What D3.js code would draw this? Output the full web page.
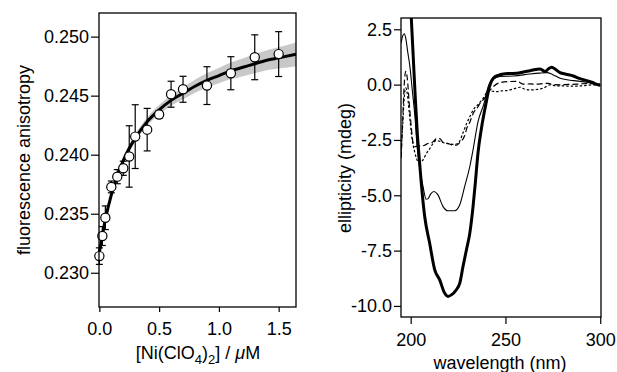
<!DOCTYPE html>
<html>
<head>
<meta charset="utf-8">
<script src="https://cdn.jsdelivr.net/npm/d3@7"></script>
<style>
  body { margin: 0; background: #fff; }
  svg { display: block; }
  text { font-family: "Liberation Sans", Arial, Helvetica, sans-serif; fill: #000; }
  .axis text { font-size: 18px; }
  .axis line { stroke: #000; stroke-width: 1.2px; }
</style>
</head>
<body>
<svg id="chart" width="617" height="372"></svg>
<script>
// ---- left panel: anisotropy titration ----
var niConc = [0, 0.025, 0.05, 0.1, 0.15, 0.2, 0.25, 0.3, 0.4, 0.5, 0.6, 0.7, 0.9, 1.1, 1.3, 1.5];
var anisotropy = [0.23141, 0.23311, 0.23466, 0.23727, 0.23814, 0.23885, 0.23985, 0.24153, 0.24212, 0.24340, 0.24512, 0.24554, 0.24585, 0.24690, 0.24825, 0.24852];
var anisoErr = [0.0007, 0.0008, 0.0010, 0.0005, 0.0006, 0.0006, 0.0026, 0.0027, 0.0018, 0.0003, 0.0011, 0.0011, 0.0016, 0.0014, 0.0019, 0.0019];

var fitConc = [0, 0.05, 0.1, 0.15, 0.2, 0.3, 0.4, 0.5, 0.6, 0.7, 0.8, 0.9, 1.0, 1.1, 1.2, 1.3, 1.4, 1.5, 1.645];
var fitValue = [0.2317, 0.2345, 0.2366, 0.2382, 0.2395, 0.2414, 0.2428, 0.2438, 0.2446, 0.2452, 0.2458, 0.2463, 0.2467, 0.2471, 0.2474, 0.2477, 0.2480, 0.2482, 0.2485];
var fitBand = [0.0002, 0.0002, 0.00025, 0.00025, 0.0003, 0.0003, 0.00035, 0.0004, 0.00045, 0.0005, 0.00055, 0.0006, 0.00065, 0.0007, 0.00075, 0.0008, 0.00085, 0.0009, 0.001];

var xTicksL = [0, 0.5, 1.0, 1.5];
var yTicksL = [0.230, 0.235, 0.240, 0.245, 0.250];

// ---- right panel: CD spectra [wavelength nm, mdeg] ----
var cdThick = [[198, 6.6], [199.2, 4.8], [200.3, 3.06], [201.5, 1.0], [202.5, -0.7], [203.5, -2.2], [204.5, -3.3], [205.6, -4.45], [207.4, -5.96], [210, -7.16], [212.7, -8.37], [215.3, -8.82], [217.9, -9.42], [219.7, -9.57], [221.5, -9.5], [224.1, -9.27], [225.9, -8.97], [227.6, -8.22], [229.4, -7.47], [231.2, -6.71], [232.9, -5.51], [234.1, -4.45], [235.5, -3.1], [237.3, -1.99], [239.9, -0.78], [241.5, -0.1], [243.6, 0.29], [246.5, 0.43], [248.9, 0.48], [252, 0.5], [256, 0.51], [259.5, 0.57], [263, 0.63], [266, 0.68], [268.3, 0.71], [270.9, 0.59], [272.5, 0.7], [274.4, 0.79], [276.5, 0.68], [278.8, 0.54], [282, 0.47], [285.8, 0.39], [289, 0.28], [292.9, 0.18], [296, 0.1], [299, -0.01], [300, 0.0]];
var cdThin = [[195, 1.9], [195.8, 2.2], [196.6, 2.3], [197.4, 2.1], [198.4, 1.5], [199.6, 0.81], [200.8, -0.2], [202.3, -1.5], [203.5, -2.9], [205, -3.9], [206.5, -4.6], [208.2, -5.18], [209.2, -5.15], [210.5, -4.95], [212.3, -4.83], [214.4, -4.98], [217, -5.5], [219.7, -5.7], [223.2, -5.7], [225.9, -5.43], [228.5, -4.6], [231.2, -3.7], [232.9, -2.95], [235.5, -1.68], [238.7, -0.85], [240.5, -0.2], [243, 0.2], [247.1, 0.37], [254.2, 0.39], [263, 0.48], [268, 0.52], [271.8, 0.54], [275, 0.45], [278.8, 0.29], [285.8, 0.18], [292.9, 0.11], [300, 0.0]];
var cdDashed = [[195, -3.3], [195.8, -1.6], [196.6, 0.0], [197.4, 0.6], [198.2, 0.3], [199.2, -0.8], [200.3, -1.9], [201.2, -2.6], [202.3, -2.8], [204.9, -2.77], [207, -2.75], [209.1, -2.66], [211.5, -2.6], [213.5, -2.45], [215.3, -2.44], [217.2, -2.62], [219.7, -2.66], [222.5, -2.74], [224.1, -2.74], [226, -2.6], [228.5, -2.3], [229.6, -1.97], [231.2, -1.7], [233, -1.29], [235.5, -1.0], [236.6, -0.84], [239.1, -0.6], [240.1, -0.46], [243.6, -0.09], [247.1, 0.09], [252.4, 0.14], [256, 0.15], [259.5, 0.02], [263, 0.03], [266.5, 0.02], [270, 0.05], [272.7, 0.06], [275, 0.0], [278.8, -0.01], [283, 0.01], [287.6, 0.02], [291, 0.04], [294.7, 0.06], [297.5, 0.0], [300, -0.06]];
var cdDotted = [[195, -3.0], [195.8, -1.8], [196.6, -0.6], [197.4, -0.15], [198.2, -0.4], [199.3, -1.3], [200.5, -2.3], [202.1, -3.04], [203.9, -3.49], [205, -3.55], [206.5, -3.4], [208.4, -3.1], [210, -2.9], [211.9, -2.65], [213.5, -2.52], [215.5, -2.57], [218, -2.64], [220.7, -2.68], [223, -2.7], [225.1, -2.65], [227.5, -2.2], [229.6, -1.74], [231.5, -1.4], [233, -1.14], [235.5, -0.9], [238.3, -0.61], [241, -0.28], [243, -0.3], [245.4, -0.32], [248, -0.28], [250.7, -0.27], [254, -0.2], [257.7, -0.12], [260, -0.2], [263, -0.24], [266.5, -0.22], [270, -0.16], [273.5, -0.01], [277, -0.06], [280.6, -0.06], [285, -0.07], [289.4, -0.06], [293, -0.03], [296.4, -0.01], [300, -0.06]];

var xTicksR = [200, 250, 300];
var yTicksR = [2.5, 0, -2.5, -5, -7.5, -10];

var svg = d3.select("#chart");

// ===== left panel =====
var L = { left: 99, right: 296, top: 13, bottom: 307 };
var xL = d3.scaleLinear().domain([-0.003, 1.645]).range([L.left, L.right]);
var yL = d3.scaleLinear().domain([0.2271, 0.2520]).range([L.bottom, L.top]);

var gL = svg.append("g");

var fit = fitConc.map(function (c, i) { return { x: c, y: fitValue[i], e: fitBand[i] }; });

gL.append("path")
    .datum(fit)
    .attr("fill", "#c8c8c8")
    .attr("d", d3.area()
        .x(function (d) { return xL(d.x); })
        .y0(function (d) { return yL(d.y - d.e); })
        .y1(function (d) { return yL(d.y + d.e); })
        .curve(d3.curveMonotoneX));

gL.append("path")
    .datum(fit)
    .attr("fill", "none")
    .attr("stroke", "#000")
    .attr("stroke-width", 3)
    .attr("d", d3.line()
        .x(function (d) { return xL(d.x); })
        .y(function (d) { return yL(d.y); })
        .curve(d3.curveMonotoneX));

var pts = niConc.map(function (c, i) { return { x: c, y: anisotropy[i], e: anisoErr[i] }; });

var bars = gL.selectAll(".err").data(pts).enter().append("g")
    .attr("stroke", "#000").attr("stroke-width", 1.2);
bars.append("line")
    .attr("x1", function (d) { return xL(d.x); }).attr("x2", function (d) { return xL(d.x); })
    .attr("y1", function (d) { return yL(d.y - d.e); }).attr("y2", function (d) { return yL(d.y + d.e); });
bars.append("line")
    .attr("x1", function (d) { return xL(d.x) - 3.5; }).attr("x2", function (d) { return xL(d.x) + 3.5; })
    .attr("y1", function (d) { return yL(d.y + d.e); }).attr("y2", function (d) { return yL(d.y + d.e); });
bars.append("line")
    .attr("x1", function (d) { return xL(d.x) - 3.5; }).attr("x2", function (d) { return xL(d.x) + 3.5; })
    .attr("y1", function (d) { return yL(d.y - d.e); }).attr("y2", function (d) { return yL(d.y - d.e); });

gL.selectAll(".pt").data(pts).enter().append("circle")
    .attr("cx", function (d) { return xL(d.x); })
    .attr("cy", function (d) { return yL(d.y); })
    .attr("r", 4.6)
    .attr("fill", "#fff")
    .attr("stroke", "#000")
    .attr("stroke-width", 1.2);

gL.append("g").attr("class", "axis")
    .attr("transform", "translate(0," + L.bottom + ")")
    .call(d3.axisBottom(xL).tickValues(xTicksL).tickFormat(d3.format(".1f")).tickSize(5).tickSizeOuter(0).tickPadding(10))
    .call(function (g) { g.select(".domain").remove(); });

gL.append("g").attr("class", "axis")
    .attr("transform", "translate(" + L.left + ",0)")
    .call(d3.axisLeft(yL).tickValues(yTicksL).tickFormat(d3.format(".3f")).tickSize(8).tickSizeOuter(0).tickPadding(2))
    .call(function (g) { g.select(".domain").remove(); });

gL.append("rect")
    .attr("x", L.left).attr("y", L.top)
    .attr("width", L.right - L.left).attr("height", L.bottom - L.top)
    .attr("fill", "none").attr("stroke", "#000").attr("stroke-width", 1.3);

gL.append("text")
    .attr("transform", "translate(30," + ((L.top + L.bottom) / 2) + ") rotate(-90)")
    .attr("text-anchor", "middle")
    .style("font-size", "18px")
    .text("fluorescence anisotropy");

var xlab = gL.append("text")
    .attr("x", 198).attr("y", 359)
    .attr("text-anchor", "middle")
    .style("font-size", "18px");
xlab.append("tspan").text("[Ni(ClO");
xlab.append("tspan").attr("dy", 5).style("font-size", "13px").text("4");
xlab.append("tspan").attr("dy", -5).text(")");
xlab.append("tspan").attr("dy", 5).style("font-size", "13px").text("2");
xlab.append("tspan").attr("dy", -5).text("] / ");
xlab.append("tspan").style("font-style", "italic").text("\u03bc");
xlab.append("tspan").text("M");

// ===== right panel =====
var R = { left: 401, right: 601, top: 18, bottom: 317 };
var xR = d3.scaleLinear().domain([194.9, 300.4]).range([R.left, R.right]);
var yR = d3.scaleLinear().domain([-10.5, 3.01]).range([R.bottom, R.top]);

var gR = svg.append("g");

svg.append("defs").append("clipPath").attr("id", "clipR")
    .append("rect")
    .attr("x", R.left).attr("y", R.top)
    .attr("width", R.right - R.left).attr("height", R.bottom - R.top);

var cdLine = d3.line()
    .x(function (d) { return xR(d[0]); })
    .y(function (d) { return yR(d[1]); })
    .curve(d3.curveMonotoneX);

var spectra = [
    { data: cdDotted, width: 1.2, dash: "2.5,2" },
    { data: cdDashed, width: 1.2, dash: "6,3" },
    { data: cdThin, width: 1.1, dash: null },
    { data: cdThick, width: 3, dash: null }
];

gR.append("g").attr("clip-path", "url(#clipR)")
    .selectAll("path").data(spectra).enter().append("path")
    .attr("fill", "none")
    .attr("stroke", "#000")
    .attr("stroke-linejoin", "round")
    .attr("stroke-width", function (d) { return d.width; })
    .attr("stroke-dasharray", function (d) { return d.dash; })
    .attr("d", function (d) { return cdLine(d.data); });

gR.append("g").attr("class", "axis")
    .attr("transform", "translate(0," + R.bottom + ")")
    .call(d3.axisBottom(xR).tickValues(xTicksR).tickFormat(d3.format("d")).tickSize(7).tickSizeOuter(0).tickPadding(9))
    .call(function (g) { g.select(".domain").remove(); });

gR.append("g").attr("class", "axis")
    .attr("transform", "translate(" + R.left + ",0)")
    .call(d3.axisLeft(yR).tickValues(yTicksR).tickFormat(function (d) { return d.toFixed(1); }).tickSize(7).tickSizeOuter(0).tickPadding(2))
    .call(function (g) { g.select(".domain").remove(); });

gR.append("rect")
    .attr("x", R.left).attr("y", R.top)
    .attr("width", R.right - R.left).attr("height", R.bottom - R.top)
    .attr("fill", "none").attr("stroke", "#000").attr("stroke-width", 1.3);

gR.append("text")
    .attr("transform", "translate(351,168) rotate(-90)")
    .attr("text-anchor", "middle")
    .style("font-size", "18px")
    .text("ellipticity (mdeg)");

gR.append("text")
    .attr("x", 500).attr("y", 369)
    .attr("text-anchor", "middle")
    .style("font-size", "18px")
    .text("wavelength (nm)");
</script>
</body>
</html>
